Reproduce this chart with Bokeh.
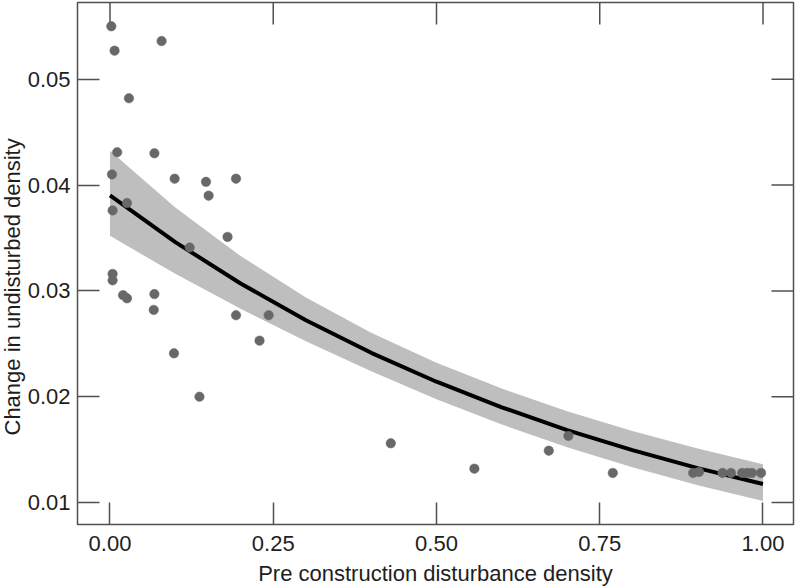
from bokeh.plotting import figure
from bokeh.models import FixedTicker, Range1d, ColumnDataSource, Title
from bokeh.embed import file_html
from bokeh.resources import INLINE

# ---- data ----
pre_density = [0.002, 0.007, 0.079, 0.029, 0.011, 0.068, 0.003, 0.099, 0.147, 0.193, 0.151,
               0.026, 0.004, 0.122, 0.180, 0.004, 0.004, 0.020, 0.026, 0.068, 0.067, 0.193,
               0.243, 0.229, 0.098, 0.137, 0.430, 0.558, 0.672, 0.702, 0.770,
               0.893, 0.902, 0.938, 0.951, 0.968, 0.976, 0.983, 0.997]
change_density = [0.0550, 0.0527, 0.0536, 0.0482, 0.0431, 0.0430, 0.0410, 0.0406, 0.0403, 0.0406, 0.0390,
                  0.0383, 0.0376, 0.0341, 0.0351, 0.0316, 0.0310, 0.0296, 0.0293, 0.0297, 0.0282, 0.0277,
                  0.0277, 0.0253, 0.0241, 0.0200, 0.0156, 0.0132, 0.0149, 0.0163, 0.0128,
                  0.0128, 0.0129, 0.0128, 0.0128, 0.0128, 0.0128, 0.0128, 0.0128]

fit_x = [0.0, 0.1, 0.2, 0.3, 0.4, 0.5, 0.6, 0.7, 0.8, 0.9, 1.0]
fit_y = [0.03902, 0.03461, 0.03070, 0.02723, 0.02415, 0.02142, 0.01900, 0.01685, 0.01495, 0.01326, 0.01176]
fit_upper = [0.04325, 0.03789, 0.03329, 0.02937, 0.02604, 0.02320, 0.02077, 0.01864, 0.01677, 0.01511, 0.01362]
fit_lower = [0.03520, 0.03162, 0.02831, 0.02524, 0.02240, 0.01977, 0.01738, 0.01523, 0.01333, 0.01164, 0.01015]

x_ticks = [0.0, 0.25, 0.5, 0.75, 1.0]
x_tick_labels = ["0.00", "0.25", "0.50", "0.75", "1.00"]
y_ticks = [0.01, 0.02, 0.03, 0.04, 0.05]
y_tick_labels = ["0.01", "0.02", "0.03", "0.04", "0.05"]

x_title = "Pre construction disturbance density"
y_title = "Change in undisturbed density"

# ---- layout / style ----
FONT = "Liberation Sans"
FRAME = "#505050"
TEXT = "#1e1e1e"
W, H = 796, 588
B_LEFT, B_RIGHT, B_TOP, B_BOTTOM = 77, 3, 2, 62
FRAME_W = W - B_LEFT - B_RIGHT
FRAME_H = H - B_TOP - B_BOTTOM
X0, X1 = -0.04977, 1.04671
Y0, Y1 = 0.007929, 0.057247
TICK_LEN = 22

p = figure(width=W, height=H,
           x_range=Range1d(X0, X1), y_range=Range1d(Y0, Y1),
           output_backend="svg", toolbar_location=None,
           min_border_left=B_LEFT, min_border_right=B_RIGHT,
           min_border_top=B_TOP, min_border_bottom=B_BOTTOM,
           background_fill_color="white", border_fill_color="white")
p.xgrid.visible = False
p.ygrid.visible = False
p.outline_line_color = FRAME
p.outline_line_width = 1.5

def style_axis(ax, ticks, labels):
    ax.ticker = FixedTicker(ticks=ticks)
    ax.major_label_overrides = {t: l for t, l in zip(ticks, labels)}
    ax.minor_tick_line_color = None
    ax.major_tick_in = TICK_LEN
    ax.major_tick_out = 0
    ax.major_tick_line_color = FRAME
    ax.major_tick_line_width = 1.5
    ax.axis_line_color = None
    ax.major_label_text_font = FONT
    ax.major_label_text_font_size = "22px"
    ax.major_label_text_color = TEXT
    ax.axis_label_text_font = FONT
    ax.axis_label_text_font_size = "22px"
    ax.axis_label_text_font_style = "normal"
    ax.axis_label_text_color = TEXT

style_axis(p.xaxis[0], x_ticks, x_tick_labels)
p.xaxis[0].axis_label = x_title
p.xaxis[0].major_label_standoff = 11
p.xaxis[0].axis_label_standoff = 7

style_axis(p.yaxis[0], y_ticks, y_tick_labels)
p.yaxis[0].major_label_standoff = 7

# y title as a side title, started from the lower frame edge like the reference
p.add_layout(Title(text=y_title, align="left", offset=89, vertical_align="middle",
                   standoff=-3, text_font=FONT, text_font_size="22px",
                   text_font_style="normal", text_color=TEXT), "left")

# inward ticks on the top and right edges of the frame
dy = TICK_LEN * (Y1 - Y0) / FRAME_H
dx = TICK_LEN * (X1 - X0) / FRAME_W
p.segment(x0=x_ticks, x1=x_ticks, y0=[Y1] * len(x_ticks), y1=[Y1 - dy] * len(x_ticks),
          line_color=FRAME, line_width=1.5)
p.segment(x0=[X1] * len(y_ticks), x1=[X1 - dx] * len(y_ticks), y0=y_ticks, y1=y_ticks,
          line_color=FRAME, line_width=1.5)

band = ColumnDataSource(dict(x=fit_x, y=fit_y, lo=fit_lower, hi=fit_upper))
pts = ColumnDataSource(dict(x=pre_density, y=change_density))

p.varea(x="x", y1="lo", y2="hi", source=band, fill_color="#bebebe", fill_alpha=1.0)
p.line(x="x", y="y", source=band, line_color="black", line_width=4)
p.scatter(x="x", y="y", source=pts, size=9.5, fill_color="#686868", line_color="#686868", line_width=0.5)

open("out.html", "w").write(file_html(p, INLINE))
